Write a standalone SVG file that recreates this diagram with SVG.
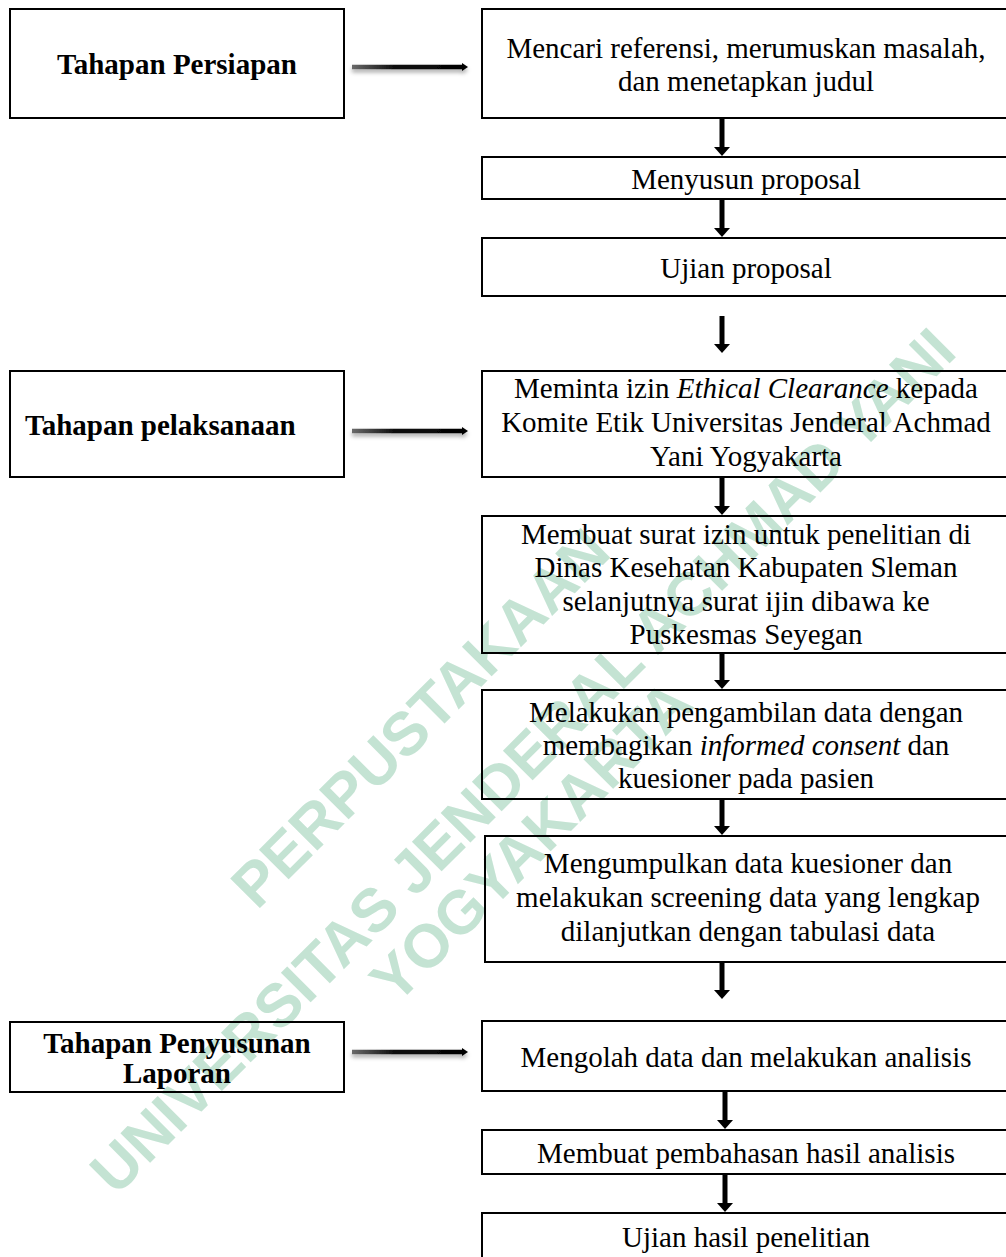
<svg xmlns="http://www.w3.org/2000/svg" width="1006" height="1257" viewBox="0 0 1006 1257">
<style>
.box{fill:none;stroke:#000;stroke-width:2}
.t{font-family:"Liberation Serif","Times New Roman",serif;font-size:29px;fill:#000;text-anchor:middle}
.b{font-weight:bold}
.wm{font-family:"Liberation Sans",Arial,sans-serif;font-weight:bold;font-size:61px;fill:#c4e3d3}
.va{stroke:#000;stroke-width:5;marker-end:url(#vh)}
</style>
<defs>
<marker id="vh" markerUnits="userSpaceOnUse" markerWidth="9" markerHeight="16" refX="0" refY="8" orient="auto" viewBox="0 0 9 16">
<path d="M0,0 L9,8 L0,16 Z" fill="#000"/>
</marker>
<linearGradient id="hg" x1="0" y1="0" x2="1" y2="0">
<stop offset="0" stop-color="#6a6a6a"/>
<stop offset="0.35" stop-color="#111"/>
<stop offset="1" stop-color="#000"/>
</linearGradient>
<filter id="sh" x="-10%" y="-200%" width="120%" height="500%">
<feDropShadow dx="0" dy="3" stdDeviation="2" flood-color="#000" flood-opacity="0.35"/>
</filter>
<path id="harrow" d="M0,-2.2 L110,-2.2 L110,-4 L116,0 L110,4 L110,2.2 L0,2.2 Z"/>
</defs>
<rect width="1006" height="1257" fill="#fff"/>
<g id="watermark">
<text class="wm" transform="translate(257,911) rotate(-45)">PERPUSTAKAAN</text>
<text class="wm" transform="translate(116,1197) rotate(-45)">UNIVERSITAS JENDERAL ACHMAD YANI</text>
<text class="wm" transform="translate(396,1006) rotate(-45)">YOGYAKARTA</text>
</g>
<g id="connectors">
<use href="#harrow" x="352" y="67" fill="url(#hg)" filter="url(#sh)"/>
<use href="#harrow" x="352" y="431" fill="url(#hg)" filter="url(#sh)"/>
<use href="#harrow" x="352" y="1052" fill="url(#hg)" filter="url(#sh)"/>
<line class="va" x1="722" y1="119" x2="722" y2="147"/>
<line class="va" x1="722" y1="200" x2="722" y2="228"/>
<line class="va" x1="722" y1="316" x2="722" y2="344"/>
<line class="va" x1="722" y1="478" x2="722" y2="506"/>
<line class="va" x1="722" y1="654" x2="722" y2="680"/>
<line class="va" x1="722" y1="800" x2="722" y2="826"/>
<line class="va" x1="722" y1="963" x2="722" y2="990"/>
<line class="va" x1="725" y1="1092" x2="725" y2="1120"/>
<line class="va" x1="725" y1="1175" x2="725" y2="1203"/>
</g>
<g id="n-persiapan">
<rect class="box" x="10" y="9" width="334" height="109"/>
<text class="t b" x="177" y="74">Tahapan Persiapan</text>
</g>
<g id="n-pelaksanaan">
<rect class="box" x="10" y="371" width="334" height="106"/>
<text class="t b" x="25" y="435" style="text-anchor:start">Tahapan pelaksanaan</text>
</g>
<g id="n-penyusunan">
<rect class="box" x="10" y="1022" width="334" height="70"/>
<text class="t b" x="177" y="1053">Tahapan Penyusunan</text>
<text class="t b" x="177" y="1083">Laporan</text>
</g>
<g id="n-mencari">
<rect class="box" x="482" y="9" width="530" height="109"/>
<text class="t" x="746" y="58">Mencari referensi, merumuskan masalah,</text>
<text class="t" x="746" y="91">dan menetapkan judul</text>
</g>
<g id="n-menyusun">
<rect class="box" x="482" y="157" width="530" height="42"/>
<text class="t" x="746" y="189">Menyusun proposal</text>
</g>
<g id="n-ujian-proposal">
<rect class="box" x="482" y="238" width="530" height="58"/>
<text class="t" x="746" y="278">Ujian proposal</text>
</g>
<g id="n-meminta">
<rect class="box" x="482" y="371" width="530" height="106"/>
<text class="t" x="746" y="398">Meminta izin <tspan font-style="italic">Ethical Clearance</tspan> kepada</text>
<text class="t" x="746" y="432">Komite Etik Universitas Jenderal Achmad</text>
<text class="t" x="746" y="466">Yani Yogyakarta</text>
</g>
<g id="n-membuat-surat">
<rect class="box" x="482" y="516" width="530" height="137"/>
<text class="t" x="746" y="544">Membuat surat izin untuk penelitian di</text>
<text class="t" x="746" y="577">Dinas Kesehatan Kabupaten Sleman</text>
<text class="t" x="746" y="611">selanjutnya surat ijin dibawa ke</text>
<text class="t" x="746" y="644">Puskesmas Seyegan</text>
</g>
<g id="n-melakukan">
<rect class="box" x="482" y="690" width="530" height="109"/>
<text class="t" x="746" y="722">Melakukan pengambilan data dengan</text>
<text class="t" x="746" y="755">membagikan <tspan font-style="italic">informed consent</tspan> dan</text>
<text class="t" x="746" y="788">kuesioner pada pasien</text>
</g>
<g id="n-mengumpulkan">
<rect class="box" x="485" y="836" width="530" height="126"/>
<text class="t" x="748" y="873">Mengumpulkan data kuesioner dan</text>
<text class="t" x="748" y="907">melakukan screening data yang lengkap</text>
<text class="t" x="748" y="941">dilanjutkan dengan tabulasi data</text>
</g>
<g id="n-mengolah">
<rect class="box" x="482" y="1021" width="530" height="70"/>
<text class="t" x="746" y="1067">Mengolah data dan melakukan analisis</text>
</g>
<g id="n-pembahasan">
<rect class="box" x="482" y="1130" width="530" height="44"/>
<text class="t" x="746" y="1163">Membuat pembahasan hasil analisis</text>
</g>
<g id="n-ujian-hasil">
<rect class="box" x="482" y="1213" width="530" height="60"/>
<text class="t" x="746" y="1247">Ujian hasil penelitian</text>
</g>
</svg>
